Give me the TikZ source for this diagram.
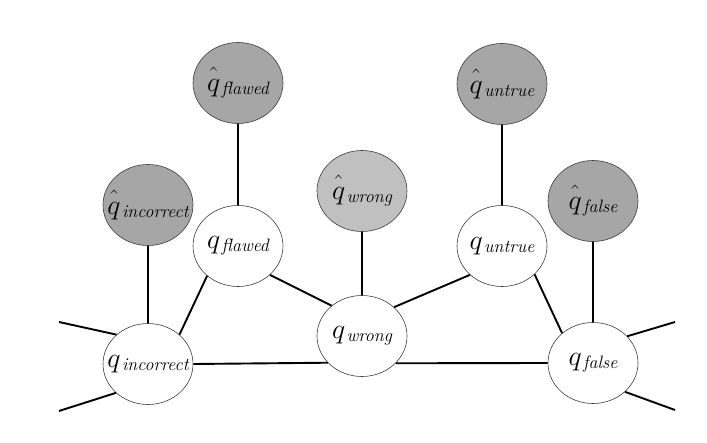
\RequirePackage{fix-cm}
\documentclass[tikz,border=0pt]{standalone}
\usetikzlibrary{shapes.geometric}
\definecolor{obsdark}{RGB}{166,166,166}
\definecolor{obslight}{RGB}{192,192,192}
\definecolor{rim}{RGB}{60,60,60}
\newcommand\qlbl[2]{$#1$\kern1.5pt\raisebox{-3pt}{\fontsize{18}{18}\selectfont\itshape #2}}
\begin{document}
\begin{tikzpicture}[x=1pt,y=-1pt,
  ell/.style={ellipse,draw=rim,line width=0.6pt,minimum width=90pt,minimum height=81pt,
    inner xsep=-16pt,inner ysep=0pt,font=\fontsize{28}{30}\selectfont},
  hid/.style={ell,fill=white},
  obs/.style={ell,fill=obsdark},
  obsl/.style={ell,fill=obslight},
  edge/.style={line width=1.9pt,black}]
\useasboundingbox (0,0) rectangle (707,443);
% observed nodes
\node[obs]  (hi) at (148,205) {\qlbl{\hat{\vphantom{t}q}}{incorrect}};
\node[obs]  (hf) at (238,83)  {\qlbl{\hat{\vphantom{t}q}}{flawed}};
\node[obsl] (hw) at (362,191) {\qlbl{\hat{\vphantom{t}q}}{wrong}};
\node[obs]  (hu) at (502,84)  {\qlbl{\hat{\vphantom{t}q}}{untrue}};
\node[obs]  (ha) at (593,201) {\qlbl{\hat{\vphantom{t}q}}{false}};
% hidden nodes
\node[hid] (qi) at (148,364) {\qlbl{q}{incorrect}};
\node[hid] (qf) at (238,246) {\qlbl{q}{flawed}};
\node[hid] (qw) at (362,336) {\qlbl{q}{wrong}};
\node[hid] (qu) at (502,246) {\qlbl{q}{untrue}};
\node[hid] (qa) at (593,363) {\qlbl{q}{false}};
% free ends
\coordinate (l1) at (59,322);
\coordinate (l2) at (59,411);
\coordinate (r1) at (675,322);
\coordinate (r2) at (675,410);
% edges
\draw[edge] (hi) -- (qi);
\draw[edge] (hf) -- (qf);
\draw[edge] (hw) -- (qw);
\draw[edge] (hu) -- (qu);
\draw[edge] (ha) -- (qa);
\draw[edge] (qi.43) -- (qf.224);
\draw[edge] (qf.318) -- (qw.135);
\draw[edge] (qw.42) -- (qu.222);
\draw[edge] (qu.319) -- (qa.136);
\draw[edge] (qi.east) -- (qw.218.5);
\draw[edge] (qw.321.5) -- (qa.west);
\draw[edge] (qi.137) -- (l1);
\draw[edge] (qi.222) -- (l2);
\draw[edge] (qa.38) -- (r1);
\draw[edge] (qa.318) -- (r2);
\end{tikzpicture}
\end{document}
